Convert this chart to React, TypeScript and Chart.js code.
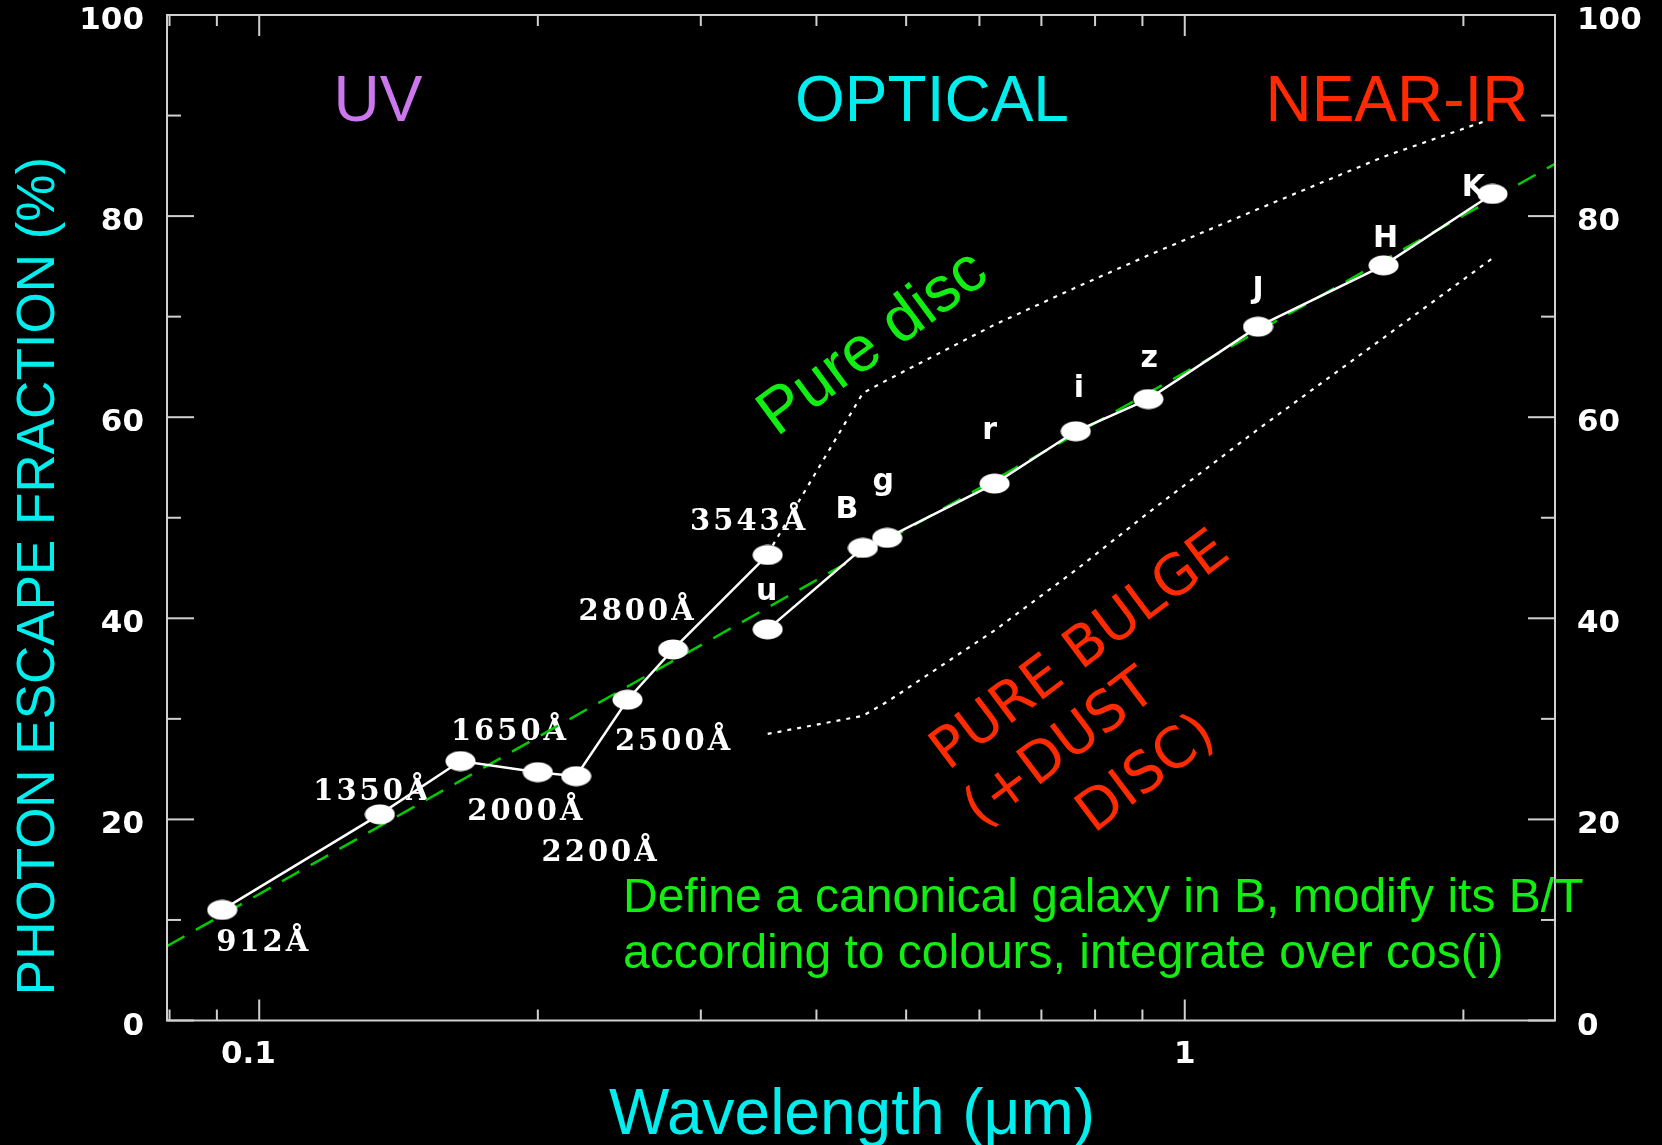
import React, { useEffect, useRef } from "react";
import { Chart, registerables } from "chart.js";

Chart.register(...registerables);

const WIDTH = 1662;
const HEIGHT = 1145;

// ---- data (wavelength in micron, photon escape fraction in %) ----
const uvWavelengths = [0.0912, 0.135, 0.165, 0.2, 0.22, 0.25, 0.28, 0.3543];
const uvEscape = [11.0, 20.5, 25.8, 24.7, 24.3, 31.9, 36.9, 46.3];
const uvLabels = ["912Å", "1350Å", "1650Å", "2000Å", "2200Å", "2500Å", "2800Å", "3543Å"];

const bandWavelengths = [0.3543, 0.449, 0.477, 0.6231, 0.7625, 0.9134, 1.2, 1.64, 2.15];
const bandEscape = [38.9, 47.0, 48.0, 53.4, 58.6, 61.8, 69.0, 75.1, 82.2];
const bandLabels = ["u", "B", "g", "r", "i", "z", "J", "H", "K"];

const pureDiscEscape = [46.4, 62.4, 63.7, 69.2, 72.9, 76.1, 80.7, 85.9, 89.7];
const pureBulgeEscape = [28.5, 30.3, 31.7, 38.8, 44.8, 50.5, 58.8, 67.9, 75.8];

const fitWavelengths = [0.0795, 2.512];
const fitEscape = [7.4, 85.2];

const xMin = 0.0795;
const xMax = 2.512;
const yMin = 0;
const yMax = 100;
const yMajorTicks = [0, 20, 40, 60, 80, 100];
const yMinorTicks = [10, 30, 50, 70, 90];
const xMajorTicks = [0.1, 1];
const xMinorTicks = [0.08, 0.09, 0.2, 0.3, 0.4, 0.5, 0.6, 0.7, 0.8, 0.9, 2];
const xTickLabels = ["0.1\u00a0\u00a0", "1"];

// ---- layout of annotation labels (pixel offsets from their point: centre x, baseline y) ----
const uvLabelOffsets = [
  [40, 41], [-9, -14], [48, -21], [-13, 48], [23, 85], [45, 50], [-37, -29], [-20, -25],
];
const bandLabelOffsets = [
  [-1, -29], [-16, -30], [-4, -48], [-5, -45], [3, -34], [1, -32], [0, -29], [2, -18], [-19, 2],
];

const FRAME = "#d0d0d0";
const GREEN = "#11ee11";
const CYAN = "#00eeee";
const RED = "#ff2a00";
const PURPLE = "#cc77ee";

function drawText(
  ctx: CanvasRenderingContext2D,
  text: string,
  x: number,
  y: number,
  font: string,
  color: string,
  align: CanvasTextAlign = "center",
  angleDeg = 0,
  spacing = 0
) {
  ctx.save();
  ctx.translate(x, y);
  ctx.rotate((angleDeg * Math.PI) / 180);
  ctx.font = font;
  ctx.fillStyle = color;
  ctx.textAlign = align;
  ctx.textBaseline = "alphabetic";
  (ctx as any).letterSpacing = spacing + "px";
  ctx.fillText(text, align === "center" ? spacing / 2 : 0, 0);
  ctx.restore();
}

const decorPlugin = {
  id: "decor",
  beforeDraw(chart: any) {
    const ctx = chart.ctx;
    ctx.save();
    ctx.fillStyle = "#000";
    ctx.fillRect(0, 0, chart.width, chart.height);
    ctx.restore();
  },
  beforeDatasetsDraw(chart: any) {
    const ctx = chart.ctx as CanvasRenderingContext2D;
    const xs = chart.scales.x;
    const ys = chart.scales.y;
    uvLabels.forEach((t, i) => {
      const px = xs.getPixelForValue(uvWavelengths[i]);
      const py = ys.getPixelForValue(uvEscape[i]);
      drawText(ctx, t, px + uvLabelOffsets[i][0], py + uvLabelOffsets[i][1], "bold 29px 'DejaVu Serif'", "#ffffff", "center", 0, 3);
    });
    bandLabels.forEach((t, i) => {
      const px = xs.getPixelForValue(bandWavelengths[i]);
      const py = ys.getPixelForValue(bandEscape[i]);
      drawText(ctx, t, px + bandLabelOffsets[i][0], py + bandLabelOffsets[i][1], "bold 30px 'DejaVu Sans'", "#ffffff", "center");
    });
  },
  afterDatasetsDraw(chart: any) {
    const ctx = chart.ctx as CanvasRenderingContext2D;
    const { left, right, top, bottom } = chart.chartArea;
    const xs = chart.scales.x;
    const ys = chart.scales.y;
    ctx.save();
    ctx.strokeStyle = FRAME;
    ctx.lineWidth = 2;
    ctx.strokeRect(left, top, right - left, bottom - top);
    const seg = (x1: number, y1: number, x2: number, y2: number) => {
      ctx.beginPath();
      ctx.moveTo(x1, y1);
      ctx.lineTo(x2, y2);
      ctx.stroke();
    };
    yMajorTicks.forEach((v) => {
      const py = ys.getPixelForValue(v);
      seg(left, py, left + 27, py);
      seg(right, py, right - 27, py);
    });
    yMinorTicks.forEach((v) => {
      const py = ys.getPixelForValue(v);
      seg(left, py, left + 14, py);
      seg(right, py, right - 14, py);
    });
    xMajorTicks.forEach((v) => {
      const px = xs.getPixelForValue(v);
      seg(px, bottom, px, bottom - 21);
      seg(px, top, px, top + 21);
    });
    xMinorTicks.forEach((v) => {
      const px = xs.getPixelForValue(v);
      seg(px, bottom, px, bottom - 11);
      seg(px, top, px, top + 11);
    });
    ctx.restore();
  },
  afterDraw(chart: any) {
    const ctx = chart.ctx as CanvasRenderingContext2D;
    // region labels
    drawText(ctx, "UV", 378, 121, "64px 'Liberation Sans'", PURPLE);
    drawText(ctx, "OPTICAL", 932, 121, "64px 'Liberation Sans'", CYAN);
    drawText(ctx, "NEAR-IR", 1397, 121, "64px 'Liberation Sans'", RED);
    // curve labels
    drawText(ctx, "Pure disc", 884, 358, "64px 'Liberation Sans'", GREEN, "center", -36.4);
    drawText(ctx, "PURE BULGE", 1090, 664, "56px 'DejaVu Sans'", RED, "center", -37);
    drawText(ctx, "(+DUST", 1070, 762, "56px 'DejaVu Sans'", RED, "center", -37);
    drawText(ctx, "DISC)", 1156, 787, "56px 'DejaVu Sans'", RED, "center", -37);
    // note
    drawText(ctx, "Define a canonical galaxy in B, modify its B/T", 623, 912, "48px 'Liberation Sans'", GREEN, "left");
    drawText(ctx, "according to colours, integrate over cos(i)", 623, 968, "48px 'Liberation Sans'", GREEN, "left");
    // axis titles
    drawText(ctx, "Wavelength (μm)", 852, 1134, "64px 'Liberation Sans'", CYAN);
    drawText(ctx, "PHOTON ESCAPE FRACTION (%)", 53.5, 576, "53px 'Liberation Sans'", CYAN, "center", -90);
  },
};

export default function App() {
  const ref = useRef<HTMLCanvasElement>(null);

  useEffect(() => {
    document.body.style.background = "#000";
    const canvas = ref.current;
    if (!canvas) return;

    const marker = document.createElement("canvas");
    marker.width = 31;
    marker.height = 21;
    const m = marker.getContext("2d")!;
    m.fillStyle = "#ffffff";
    m.beginPath();
    m.ellipse(15.5, 10.5, 15, 10, 0, 0, Math.PI * 2);
    m.fill();

    const tickFont = { family: "'DejaVu Sans'", weight: "bold" as const, size: 31 };

    const yAxis = (position: "left" | "right", width: number, padding: number) => ({
      type: "linear" as const,
      position,
      display: true,
      min: yMin,
      max: yMax,
      grid: { display: false, drawTicks: false },
      border: { display: false },
      afterBuildTicks: (s: any) => {
        s.ticks = yMajorTicks.map((v) => ({ value: v }));
      },
      afterFit: (s: any) => {
        s.width = width;
        s.paddingTop = 0;
        s.paddingBottom = 0;
      },
      ticks: {
        color: "#ffffff",
        font: tickFont,
        padding,
        labelOffset: 6,
        callback: (v: any) => String(v),
      },
    });

    const chart = new Chart(canvas, {
      type: "line",
      data: {
        datasets: [
          {
            label: "UV",
            data: uvWavelengths.map((x, i) => ({ x, y: uvEscape[i] })),
            borderColor: "#ffffff",
            borderWidth: 2.5,
            pointStyle: marker as any,
            pointRadius: 10,
            order: 0,
          },
          {
            label: "Bands",
            data: bandWavelengths.map((x, i) => ({ x, y: bandEscape[i] })),
            borderColor: "#ffffff",
            borderWidth: 2.5,
            pointStyle: marker as any,
            pointRadius: 10,
            order: 1,
          },
          {
            label: "Pure disc",
            data: bandWavelengths.map((x, i) => ({ x, y: pureDiscEscape[i] })),
            borderColor: "#ffffff",
            borderWidth: 2.2,
            borderDash: [4, 6],
            pointRadius: 0,
            order: 2,
          },
          {
            label: "Pure bulge",
            data: bandWavelengths.map((x, i) => ({ x, y: pureBulgeEscape[i] })),
            borderColor: "#ffffff",
            borderWidth: 2.2,
            borderDash: [4, 6],
            pointRadius: 0,
            order: 3,
          },
          {
            label: "Fit",
            data: fitWavelengths.map((x, i) => ({ x, y: fitEscape[i] })),
            borderColor: "#00cc00",
            borderWidth: 2.5,
            borderDash: [20, 13],
            pointRadius: 0,
            order: 4,
          },
        ],
      },
      options: {
        responsive: false,
        animation: false,
        devicePixelRatio: 1,
        events: [],
        layout: { padding: { top: 15, left: 0, right: 0, bottom: 0 } },
        plugins: {
          legend: { display: false },
          tooltip: { enabled: false },
          title: { display: false },
        },
        scales: {
          x: {
            type: "logarithmic",
            position: "bottom",
            min: xMin,
            max: xMax,
            grid: { display: false, drawTicks: false },
            border: { display: false },
            afterBuildTicks: (s: any) => {
              s.ticks = xMajorTicks.map((v) => ({ value: v }));
            },
            afterFit: (s: any) => {
              s.height = 124.5;
              s.paddingLeft = 0;
              s.paddingRight = 0;
            },
            ticks: {
              autoSkip: false,
              maxRotation: 0,
              minRotation: 0,
              color: "#ffffff",
              font: tickFont,
              padding: 16,
              callback: (v: any) => {
                const i = xMajorTicks.findIndex((t) => Math.abs(t - Number(v)) < 1e-9);
                return i >= 0 ? xTickLabels[i] : "";
              },
            },
          },
          y: yAxis("left", 167, 23),
          y2: yAxis("right", 107, 22),
        },
      } as any,
      plugins: [decorPlugin],
    });

    return () => chart.destroy();
  }, []);

  return (
    <div style={{ position: "absolute", left: 0, top: 0, width: WIDTH, height: HEIGHT, background: "#000" }}>
      <canvas ref={ref} width={WIDTH} height={HEIGHT} style={{ display: "block", width: WIDTH, height: HEIGHT }} />
    </div>
  );
}
